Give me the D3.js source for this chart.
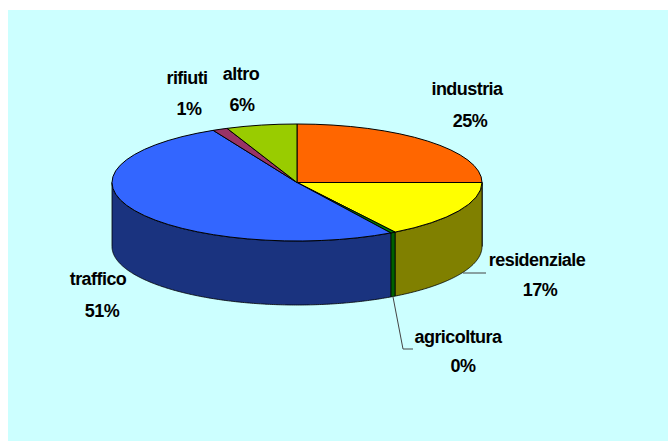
<!DOCTYPE html>
<html>
<head>
<meta charset="utf-8">
<script src="https://cdn.jsdelivr.net/npm/d3@7"></script>
<style>
html,body{margin:0;padding:0;background:#fff;overflow:hidden}
text{font-family:"Liberation Sans",Arial,sans-serif;font-weight:bold;font-size:18px;fill:#000;text-anchor:middle;letter-spacing:-0.55px}
</style>
</head>
<body>
<script>
const categories = ["industria","residenziale","agricoltura","traffico","rifiuti","altro"];
const shares = [25, 17, 0.4, 50.9, 1.2, 5.5];
const topColors = ["#FF6600","#FFFF00","#008000","#3366FF","#993366","#99CC00"];
const sideColors = ["#803300","#808000","#006000","#1A337F","#4D1A33","#4D6600"];
const labelNameAt = [[467,95],[537,266],[458,343],[98,285],[187,84],[241,80]];
const labelPctAt = [[470,127],[540,296],[463,372],[102,317],[189,115],[242,111]];

const W = 668, H = 441;
const cx = 297, cy = 182.5, rx = 185, ry = 58.5, depth = 64;
const perspective = 3.8 * Math.PI / 180; // angular skew of the tilted 3D view

const svg = d3.select("body").append("svg").attr("width",W).attr("height",H).style("display","block");
svg.append("rect").attr("x",8).attr("y",10).attr("width",W-8).attr("height",H-10).attr("fill","#CCFFFF");

const warp = a => a + perspective * Math.sin(2*a);
const slices = d3.pie().sort(null).value(d=>d)(shares)
  .map(s => ({...s, startAngle: warp(s.startAngle), endAngle: warp(s.endAngle)}));
const fmt = v => Math.round(v) + "%";
const px = (a,z=0)=>[cx+rx*Math.sin(a), cy-ry*Math.cos(a)+z];

// side walls: only the front half of the rim is visible
const lineGen = d3.line();
slices.forEach((s,i)=>{
  const a0 = Math.max(s.startAngle, Math.PI/2), a1 = Math.min(s.endAngle, 3*Math.PI/2);
  if (a1 <= a0) return;
  const angles = d3.range(a0, a1, 0.01).concat([a1]);
  const pts = angles.map(a=>px(a)).concat(angles.slice().reverse().map(a=>px(a,depth)));
  svg.append("path").attr("d", lineGen(pts)+"Z")
    .attr("fill", sideColors[i]).attr("stroke","#000").attr("stroke-width",0.8);
});

// top face: arc in a vertically squashed group
const arc = d3.arc().innerRadius(0).outerRadius(rx);
const pieTop = svg.append("g").attr("transform",`translate(${cx},${cy}) scale(1,${ry/rx})`);
pieTop.selectAll("path").data(slices).join("path")
  .attr("d",arc)
  .attr("fill",(d,i)=>topColors[i])
  .attr("stroke","#000").attr("stroke-width",1)
  .attr("vector-effect","non-scaling-stroke");

// leader lines
const midAngle = s => (s.startAngle+s.endAngle)/2;
svg.append("path").attr("d", lineGen([[463,273],[486,273]]))
  .attr("fill","none").attr("stroke","#444").attr("stroke-width",1);
const agrBase = px(midAngle(slices[2]), depth);
svg.append("path").attr("d", lineGen([agrBase,[403,349],[413,349]]))
  .attr("fill","none").attr("stroke","#444").attr("stroke-width",1);

// labels
categories.forEach((c,i)=>{
  svg.append("text").attr("x",labelNameAt[i][0]).attr("y",labelNameAt[i][1]).text(c);
  svg.append("text").attr("x",labelPctAt[i][0]).attr("y",labelPctAt[i][1]).text(fmt(shares[i]));
});
</script>
</body>
</html>
